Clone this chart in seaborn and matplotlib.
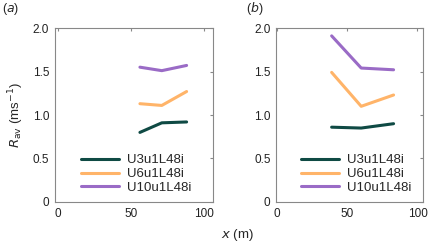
import matplotlib
matplotlib.use("Agg")
import matplotlib.pyplot as plt
import seaborn as sns
import pandas as pd

series = ["U3u1L48i", "U6u1L48i", "U10u1L48i"]
colors = ["#0f4a44", "#ffb469", "#9a6bc6"]

xa = [56, 71, 88]
a_u3 = [0.80, 0.91, 0.92]
a_u6 = [1.13, 1.11, 1.27]
a_u10 = [1.55, 1.51, 1.57]

xb = [39, 60, 83]
b_u3 = [0.86, 0.85, 0.90]
b_u6 = [1.49, 1.10, 1.23]
b_u10 = [1.91, 1.54, 1.52]

def frame(x, ys):
    rows = []
    for name, y in zip(series, ys):
        for xi, yi in zip(x, y):
            rows.append({"x": xi, "R": yi, "run": name})
    return pd.DataFrame(rows)

dfa = frame(xa, [a_u3, a_u6, a_u10])
dfb = frame(xb, [b_u3, b_u6, b_u10])

sns.set_style("white")
plt.rcParams["font.family"] = ["Liberation Sans", "DejaVu Sans"]

fig = plt.figure(figsize=(4.3, 2.46), dpi=100)
axa = fig.add_axes([0.127, 0.179, 0.368, 0.707])
axb = fig.add_axes([0.642, 0.179, 0.342, 0.707])

for ax, df, xl in [(axa, dfa, (-2.5, 106)), (axb, dfb, (-0.5, 104))]:
    sns.lineplot(data=df, x="x", y="R", hue="run", hue_order=series,
                 palette=colors, linewidth=2.2, ax=ax, legend=True)
    ax.set_xlim(*xl)
    ax.set_ylim(0, 2)
    ax.set_xticks([0, 50, 100])
    ax.set_yticks([0, 0.5, 1.0, 1.5, 2.0])
    ax.set_yticklabels(["0", "0.5", "1.0", "1.5", "2.0"])
    ax.tick_params(direction="in", length=2.5, labelsize=8.5, color="#888888",
                   top=True, right=True, pad=4, labelcolor="#222222")
    for s in ax.spines.values():
        s.set_color("#888888")
        s.set_linewidth(0.8)
    ax.set_xlabel("")
    ax.set_ylabel("")
    leg = ax.legend(loc="lower left", bbox_to_anchor=(0.15, 0.03), frameon=False,
                    fontsize=9.5, handlelength=2.9, handletextpad=0.6,
                    labelspacing=0.12, borderaxespad=0.0, borderpad=0.2)
    for line in leg.get_lines():
        line.set_linewidth(2.2)

axa.set_ylabel(r"$R_{\mathrm{av}}$ (ms$^{-1}$)", fontsize=9.5, labelpad=5)
fig.text(0.005, 0.965, r"($\it{a}$)", fontsize=9, va="center")
fig.text(0.572, 0.965, r"($\it{b}$)", fontsize=9, va="center")
fig.text(0.515, 0.045, r"$\it{x}$ (m)", fontsize=9.5, va="center")

fig.savefig("out.png", dpi=100)
